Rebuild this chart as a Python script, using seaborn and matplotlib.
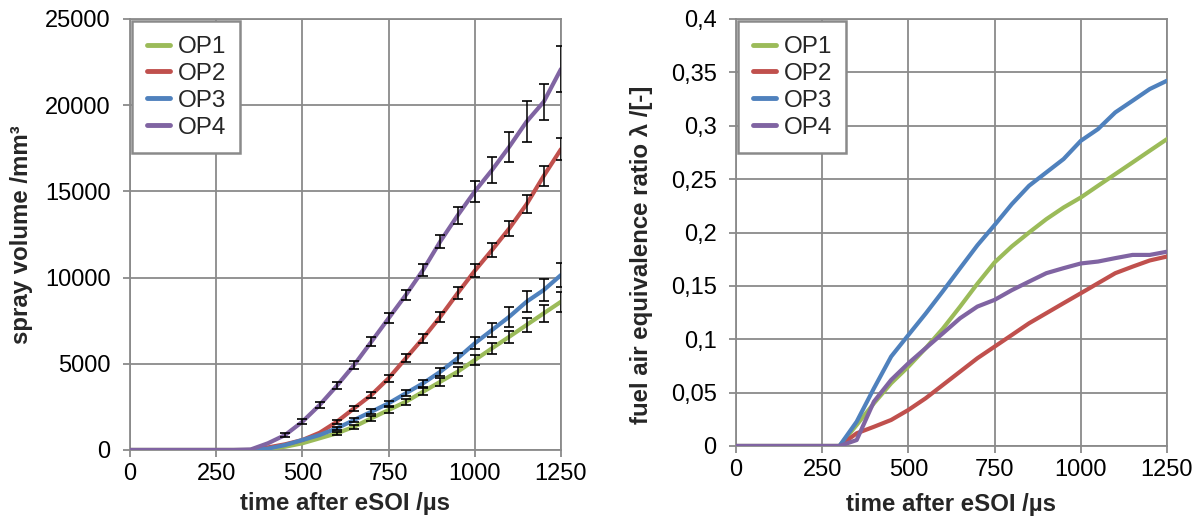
import numpy as np
import pandas as pd
import matplotlib
matplotlib.use("Agg")
import matplotlib.pyplot as plt
import seaborn as sns
from matplotlib.ticker import FuncFormatter
from matplotlib.lines import Line2D

# ---------------- data ----------------
time_us = [0, 50, 100, 150, 200, 250, 300, 350, 400, 450, 500, 550, 600, 650,
           700, 750, 800, 850, 900, 950, 1000, 1050, 1100, 1150, 1200, 1250]

series = ["OP1", "OP2", "OP3", "OP4"]

vol_op1 = [0, 0, 0, 0, 0, 0, 0, 0, 80, 190, 390, 680, 970, 1350, 1840, 2320,
           2800, 3380, 3960, 4540, 5220, 5900, 6570, 7250, 7930, 8600]
vol_op2 = [0, 0, 0, 0, 0, 0, 0, 0, 150, 330, 580, 1000, 1640, 2420, 3190, 4160,
           5320, 6480, 7730, 9090, 10400, 11600, 12850, 14250, 15900, 17450]
vol_op3 = [0, 0, 0, 0, 0, 0, 0, 0, 80, 290, 580, 870, 1260, 1740, 2220, 2710,
           3290, 3870, 4540, 5320, 6190, 6960, 7730, 8600, 9280, 10150]
vol_op4 = [0, 0, 0, 0, 0, 0, 0, 30, 390, 870, 1640, 2610, 3730, 4930, 6280, 7640,
           8990, 10440, 12100, 13600, 15000, 16240, 17590, 19040, 20200, 22100]

# error bars (+/-): OP4 from 450 us, the others from 600 us
err_time_op4 = [450, 500, 550, 600, 650, 700, 750, 800, 850, 900, 950, 1000,
                1050, 1100, 1150, 1200, 1250]
err_time = [600, 650, 700, 750, 800, 850, 900, 950, 1000,
            1050, 1100, 1150, 1200, 1250]
err_op1 = [100, 120, 140, 160, 180, 210, 240, 270, 300, 330, 360, 400, 480, 580]
err_op2 = [120, 150, 180, 200, 230, 260, 300, 340, 380, 420, 460, 520, 560, 630]
err_op3 = [100, 120, 140, 160, 180, 200, 230, 280, 360, 390, 580, 600, 640, 720]
err_op4 = [100, 130, 160, 190, 220, 250, 280, 310, 340, 390, 480, 630, 770, 870, 1200, 1040, 1350]

lam_op1 = [0, 0, 0, 0, 0, 0, 0, 0.0197, 0.040, 0.0588, 0.0744, 0.0916, 0.110, 0.1306,
           0.152, 0.172, 0.187, 0.200, 0.2125, 0.2234, 0.2328, 0.2438, 0.2547, 0.2656,
           0.2766, 0.2875]
lam_op2 = [0, 0, 0, 0, 0, 0, 0, 0.0119, 0.018, 0.0244, 0.0338, 0.0447, 0.0572, 0.0697,
           0.0822, 0.0931, 0.104, 0.115, 0.1244, 0.1338, 0.1431, 0.1525, 0.1619, 0.168,
           0.1738, 0.1775]
lam_op3 = [0, 0, 0, 0, 0, 0, 0, 0.0228, 0.054, 0.0838, 0.104, 0.124, 0.145, 0.1666,
           0.188, 0.207, 0.2266, 0.2438, 0.2563, 0.2688, 0.2859, 0.2969, 0.3125, 0.3234,
           0.3344, 0.3422]
lam_op4 = [0, 0, 0, 0, 0, 0, 0, 0.0056, 0.0416, 0.0619, 0.0775, 0.0916, 0.1056, 0.1197,
           0.1306, 0.1369, 0.146, 0.154, 0.1619, 0.1666, 0.171, 0.1728, 0.176, 0.179,
           0.179, 0.182]

x_ticks = [0, 250, 500, 750, 1000, 1250]
vol_ticks = [0, 5000, 10000, 15000, 20000, 25000]
lam_ticks = [0, 0.05, 0.1, 0.15, 0.2, 0.25, 0.3, 0.35, 0.4]

x_label = "time after eSOI /µs"
vol_label = "spray volume /mm³"
lam_label = "fuel air equivalence ratio λ /[-]"

colors = {"OP1": "#9BBB59", "OP2": "#C0504D", "OP3": "#4F81BD", "OP4": "#8064A2"}

# ---------------- build frames ----------------
vol_map = {"OP1": vol_op1, "OP2": vol_op2, "OP3": vol_op3, "OP4": vol_op4}
lam_map = {"OP1": lam_op1, "OP2": lam_op2, "OP3": lam_op3, "OP4": lam_op4}
err_map = {"OP1": err_op1, "OP2": err_op2, "OP3": err_op3, "OP4": err_op4}
err_t_map = {"OP1": err_time, "OP2": err_time, "OP3": err_time, "OP4": err_time_op4}

df_vol = pd.concat([pd.DataFrame({"t": time_us, "v": vol_map[s], "OP": s}) for s in series])
df_lam = pd.concat([pd.DataFrame({"t": time_us, "v": lam_map[s], "OP": s}) for s in series])

# ---------------- style ----------------
sns.set_style("white")
plt.rcParams["font.family"] = ["Liberation Sans", "DejaVu Sans"]

GRID = "#8a8a8a"
TICK_FS = 17
LAB_FS = 17.3
LEG_FS = 17.5

fig = plt.figure(figsize=(12.03, 5.18), dpi=100)
fig.patch.set_facecolor("white")
ax1 = fig.add_axes([130 / 1203, 1 - 450 / 518, (561 - 130) / 1203, (450 - 19) / 518])
ax2 = fig.add_axes([736 / 1203, 1 - 446 / 518, (1167 - 736) / 1203, (446 - 19) / 518])


def style_axis(ax):
    ax.set_xlim(0, 1250)
    ax.set_xticks(x_ticks)
    ax.grid(True, color=GRID, linewidth=1.3)
    ax.set_axisbelow(True)
    for sp in ax.spines.values():
        sp.set_color(GRID)
        sp.set_linewidth(1.3)
    ax.tick_params(axis="both", direction="out", length=5, width=1.3, color=GRID,
                   labelsize=TICK_FS, labelcolor="black")
    ax.tick_params(axis="y", pad=9)
    ax.tick_params(axis="x", pad=4.5)
    ax.tick_params(axis="both", left=True, bottom=True)


# left plot
sns.lineplot(data=df_vol, x="t", y="v", hue="OP", palette=colors, linewidth=3.0,
             ax=ax1, legend=False, zorder=3)
for s in series:
    et = err_t_map[s]
    idx = [time_us.index(t) for t in et]
    ax1.errorbar(et, [vol_map[s][i] for i in idx], yerr=err_map[s], fmt="none",
                 ecolor="black", elinewidth=1.1, capsize=3.8, capthick=1.2, zorder=4)
style_axis(ax1)
ax1.set_ylim(0, 25000)
ax1.set_yticks(vol_ticks)
ax1.set_xlabel(x_label, fontsize=LAB_FS, fontweight="bold")
ax1.set_ylabel(vol_label, fontsize=LAB_FS, fontweight="bold")
ax1.yaxis.set_label_coords(-0.225, 0.5)
ax1.xaxis.set_label_coords(0.5, -0.097)

# right plot
sns.lineplot(data=df_lam, x="t", y="v", hue="OP", palette=colors, linewidth=3.0,
             ax=ax2, legend=False, zorder=3)
style_axis(ax2)
ax2.set_ylim(0, 0.4)
ax2.set_yticks(lam_ticks)
ax2.yaxis.set_major_formatter(FuncFormatter(lambda v, p: ("%g" % round(v, 3)).replace(".", ",")))
ax2.set_xlabel(x_label, fontsize=LAB_FS, fontweight="bold")
ax2.set_ylabel(lam_label, fontsize=LAB_FS, fontweight="bold")
ax2.yaxis.set_label_coords(-0.193, 0.447)
ax2.xaxis.set_label_coords(0.5, -0.110)

for ax in (ax1, ax2):
    handles = [Line2D([0], [0], color=colors[s], linewidth=3.5) for s in series]
    leg = ax.legend(handles, series, loc="upper left", bbox_to_anchor=(0.0, 1.0),
                    borderaxespad=0.1, fontsize=LEG_FS, frameon=True, fancybox=False,
                    handlelength=0.95, handletextpad=0.3, labelspacing=0.2,
                    borderpad=0.6, framealpha=1)
    leg.get_frame().set_edgecolor(GRID)
    leg.get_frame().set_linewidth(1.8)
    leg.set_zorder(10)

fig.savefig("out.png", dpi=100, facecolor="white")
